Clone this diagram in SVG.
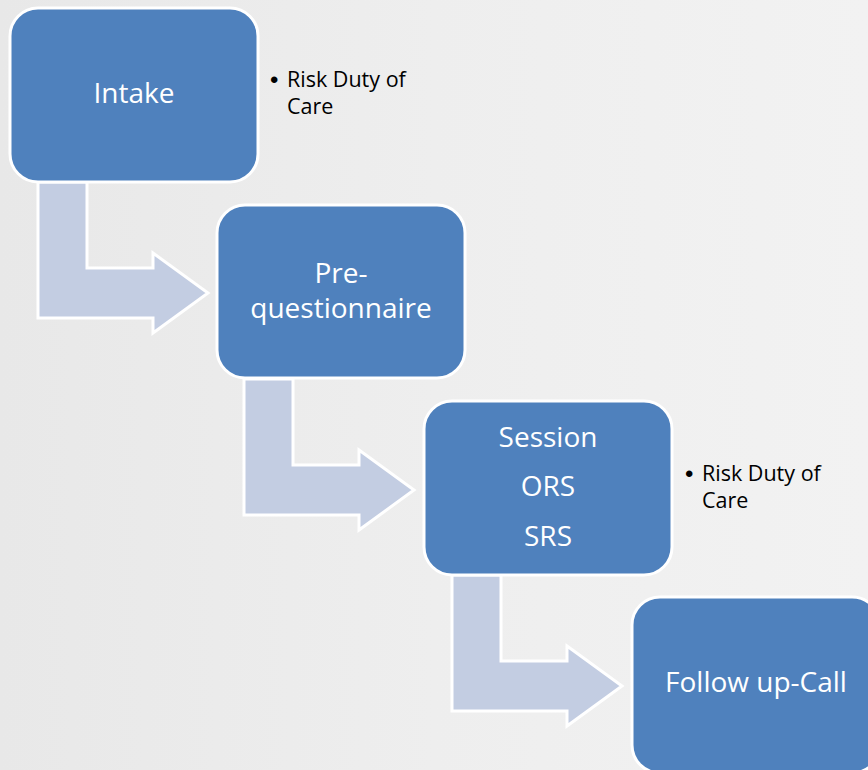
<svg xmlns="http://www.w3.org/2000/svg" width="868" height="770" viewBox="0 0 868 770">
<defs>
<linearGradient id="bg" x1="0" y1="0" x2="1" y2="0">
<stop offset="0" stop-color="#E8E8E8"/>
<stop offset="0.5" stop-color="#EEEEEE"/>
<stop offset="1" stop-color="#F2F2F2"/>
</linearGradient>
<style>
.box{fill:#4F81BD;stroke:#FFFFFF;stroke-width:3}
.arr{fill:#C3CDE2;stroke:#FFFFFF;stroke-width:3;stroke-linejoin:miter}
.lbl{font-family:"Open Sans","Noto Sans","Liberation Sans",sans-serif;font-size:28px;fill:#FFFFFF;text-anchor:middle}
.note{font-family:"Open Sans","Noto Sans","Liberation Sans",sans-serif;font-size:21.5px;fill:#000000}
.bul{font-family:"Liberation Sans",sans-serif;font-size:24px;fill:#000000}
</style>
</defs>
<rect x="0" y="0" width="868" height="770" fill="url(#bg)"/>
<g id="connectors">
<path class="arr" d="M38,182 L87,182 L87,268 L153,268 L153,253 L208,293 L153,333 L153,318 L38,318 Z"/>
<path class="arr" d="M244,379 L293,379 L293,465 L359,465 L359,450 L414,490 L359,530 L359,515 L244,515 Z"/>
<path class="arr" d="M452,575 L501,575 L501,661 L567,661 L567,646 L622,686 L567,726 L567,711 L452,711 Z"/>
</g>
<g id="intake">
<rect class="box" x="10" y="8" width="248" height="174" rx="28"/>
<text class="lbl" x="134" y="103">Intake</text>
</g>
<g id="intake-note">
<text class="bul" x="270" y="88">•</text>
<text class="note" x="287" y="87">Risk Duty of</text>
<text class="note" x="287" y="114">Care</text>
</g>
<g id="prequestionnaire">
<rect class="box" x="217" y="205" width="248" height="173" rx="28"/>
<text class="lbl" x="341" y="283">Pre-</text>
<text class="lbl" x="341" y="318">questionnaire</text>
</g>
<g id="session">
<rect class="box" x="424" y="401" width="248" height="174" rx="28"/>
<text class="lbl" x="548" y="447">Session</text>
<text class="lbl" x="548" y="496">ORS</text>
<text class="lbl" x="548" y="546">SRS</text>
</g>
<g id="session-note">
<text class="bul" x="685" y="482">•</text>
<text class="note" x="702" y="481">Risk Duty of</text>
<text class="note" x="702" y="508">Care</text>
</g>
<g id="followup">
<rect class="box" x="632" y="597" width="248" height="176" rx="28"/>
<text class="lbl" x="756" y="692">Follow up-Call</text>
</g>
</svg>
